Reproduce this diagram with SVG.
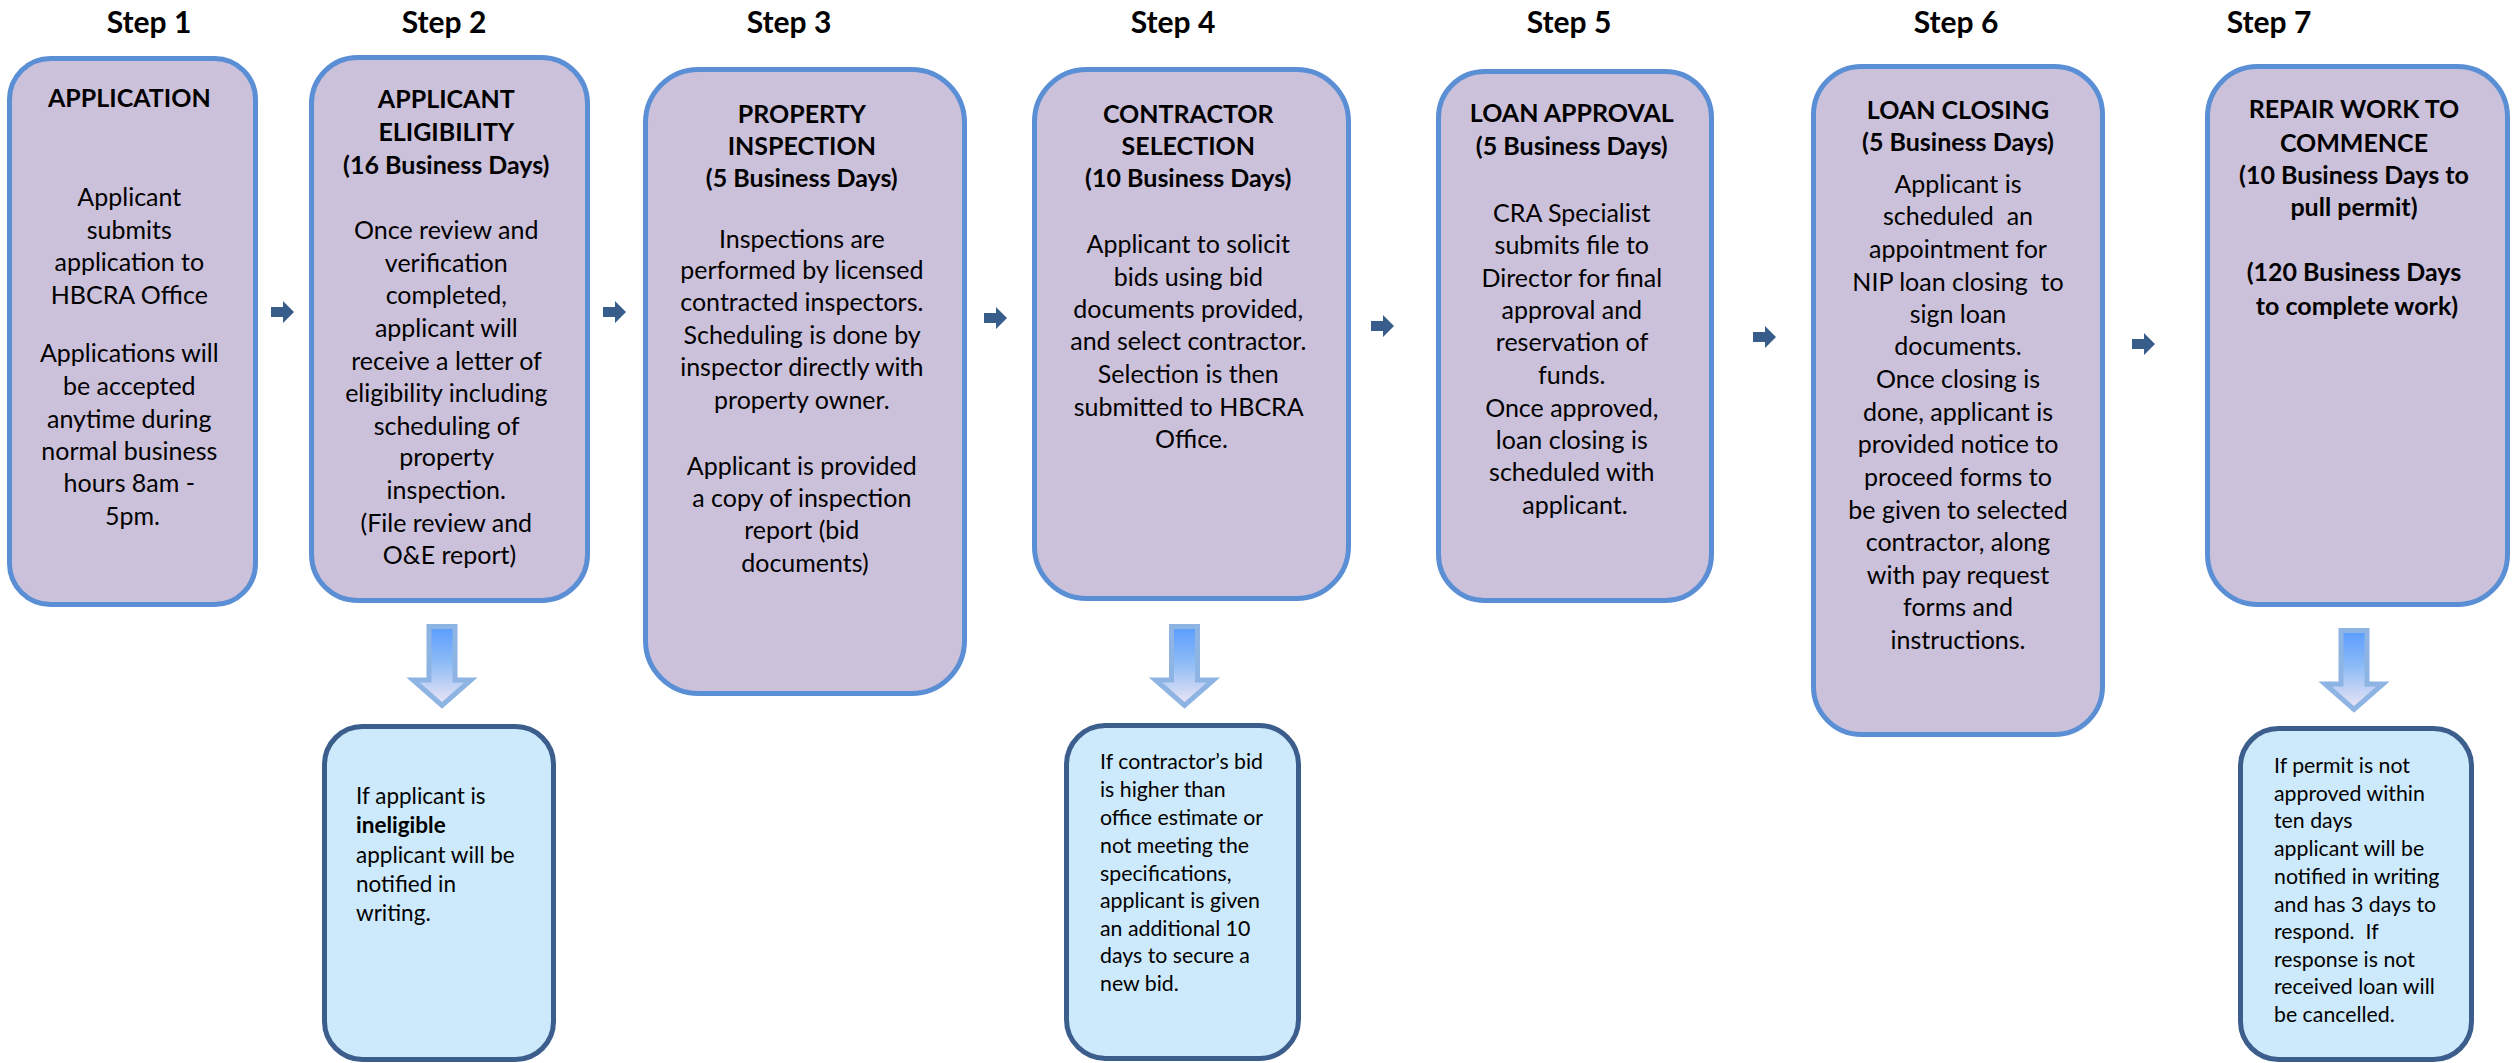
<svg xmlns="http://www.w3.org/2000/svg" xmlns:xlink="http://www.w3.org/1999/xlink" width="2518" height="1063" viewBox="0 0 2518 1063">
<style>
  text { font-family: Lato, "Open Sans", "Liberation Sans", sans-serif; fill: #000; }
  .step { font-size: 30px; font-weight: bold; text-anchor: middle; }
  .box { fill: #ccc1da; stroke: #5b8fd5; stroke-width: 5; }
  .sub { fill: #cde9fc; stroke: #3b5e8c; stroke-width: 5; }
  .c { font-size: 25px; text-anchor: middle; }
  .h { font-weight: bold; }
  .s2 { font-size: 22.5px; }
  .s4 { font-size: 21.3px; }
  .rarrow { fill: #385d8a; }
  .darrow { fill: url(#dgrad); stroke: #8db4e3; stroke-width: 5; stroke-linejoin: miter; }
</style>
<defs>
  <linearGradient id="dgrad" x1="0" y1="0" x2="0" y2="1">
    <stop offset="0" stop-color="#5a9cff"/>
    <stop offset="0.45" stop-color="#8cbbf6"/>
    <stop offset="1" stop-color="#efe6f4"/>
  </linearGradient>
  <path id="ra" d="M -23 -5 H -11 V -11 L 0 0 L -11 11 V 5 H -23 Z"/>
  <path id="da" d="M -13 0 H 13 V 53.5 H 29 L 0 79 L -29 53.5 H -13 Z"/>
</defs>

<g id="labels">
  <text class="step" x="149" y="33">Step 1</text>
  <text class="step" x="444" y="33">Step 2</text>
  <text class="step" x="789" y="33">Step 3</text>
  <text class="step" x="1173" y="33">Step 4</text>
  <text class="step" x="1569" y="33">Step 5</text>
  <text class="step" x="1956" y="33">Step 6</text>
  <text class="step" x="2269" y="33">Step 7</text>
</g>

<g id="step1">
  <rect class="box" x="9.5" y="58.5" width="246" height="546" rx="41"/>
  <text class="c">
    <tspan class="h" x="132.5" y="107">APPLICATION</tspan>
    <tspan x="132.5" y="206">Applicant</tspan>
    <tspan x="132.5" y="239">submits</tspan>
    <tspan x="132.5" y="271">application to</tspan>
    <tspan x="132.5" y="304">HBCRA Office</tspan>
    <tspan x="132.5" y="362">Applications will</tspan>
    <tspan x="132.5" y="395">be accepted</tspan>
    <tspan x="132.5" y="428">anytime during</tspan>
    <tspan x="132.5" y="460">normal business</tspan>
    <tspan x="132.5" y="492">hours 8am -</tspan>
    <tspan x="132.5" y="525">5pm.</tspan>
  </text>
</g>

<g id="step2">
  <rect class="box" x="311.5" y="57.5" width="276" height="543" rx="46"/>
  <text class="c">
    <tspan class="h" x="449.5" y="108">APPLICANT</tspan>
    <tspan class="h" x="449.5" y="141">ELIGIBILITY</tspan>
    <tspan class="h" x="449.5" y="174">(16 Business Days)</tspan>
    <tspan x="449.5" y="239">Once review and</tspan>
    <tspan x="449.5" y="272">verification</tspan>
    <tspan x="449.5" y="304">completed,</tspan>
    <tspan x="449.5" y="337">applicant will</tspan>
    <tspan x="449.5" y="370">receive a letter of</tspan>
    <tspan x="449.5" y="402">eligibility including</tspan>
    <tspan x="449.5" y="435">scheduling of</tspan>
    <tspan x="449.5" y="466">property</tspan>
    <tspan x="449.5" y="499">inspection.</tspan>
    <tspan x="449.5" y="532">(File review and</tspan>
    <tspan x="449.5" y="564">O&amp;E report)</tspan>
  </text>
</g>

<g id="step3">
  <rect class="box" x="645.5" y="69.5" width="319" height="624" rx="53"/>
  <text class="c">
    <tspan class="h" x="805" y="123">PROPERTY</tspan>
    <tspan class="h" x="805" y="155">INSPECTION</tspan>
    <tspan class="h" x="805" y="187">(5 Business Days)</tspan>
    <tspan x="805" y="248">Inspections are</tspan>
    <tspan x="805" y="279">performed by licensed</tspan>
    <tspan x="805" y="311">contracted inspectors.</tspan>
    <tspan x="805" y="344">Scheduling is done by</tspan>
    <tspan x="805" y="376">inspector directly with</tspan>
    <tspan x="805" y="409">property owner.</tspan>
    <tspan x="805" y="475">Applicant is provided</tspan>
    <tspan x="805" y="507">a copy of inspection</tspan>
    <tspan x="805" y="539">report (bid</tspan>
    <tspan x="805" y="572">documents)</tspan>
  </text>
</g>

<g id="step4">
  <rect class="box" x="1034.5" y="69.5" width="314" height="529" rx="52"/>
  <text class="c">
    <tspan class="h" x="1191.5" y="123">CONTRACTOR</tspan>
    <tspan class="h" x="1191.5" y="155">SELECTION</tspan>
    <tspan class="h" x="1191.5" y="187">(10 Business Days)</tspan>
    <tspan x="1191.5" y="253">Applicant to solicit</tspan>
    <tspan x="1191.5" y="286">bids using bid</tspan>
    <tspan x="1191.5" y="318">documents provided,</tspan>
    <tspan x="1191.5" y="350">and select contractor.</tspan>
    <tspan x="1191.5" y="383">Selection is then</tspan>
    <tspan x="1191.5" y="416">submitted to HBCRA</tspan>
    <tspan x="1191.5" y="448">Office.</tspan>
  </text>
</g>

<g id="step5">
  <rect class="box" x="1438.5" y="71.5" width="273" height="529" rx="46"/>
  <text class="c">
    <tspan class="h" x="1575" y="122">LOAN APPROVAL</tspan>
    <tspan class="h" x="1575" y="155">(5 Business Days)</tspan>
    <tspan x="1575" y="222">CRA Specialist</tspan>
    <tspan x="1575" y="254">submits file to</tspan>
    <tspan x="1575" y="287">Director for final</tspan>
    <tspan x="1575" y="319">approval and</tspan>
    <tspan x="1575" y="351">reservation of</tspan>
    <tspan x="1575" y="384">funds.</tspan>
    <tspan x="1575" y="417">Once approved,</tspan>
    <tspan x="1575" y="449">loan closing is</tspan>
    <tspan x="1575" y="481">scheduled with</tspan>
    <tspan x="1575" y="514">applicant.</tspan>
  </text>
</g>

<g id="step6">
  <rect class="box" x="1813.5" y="66.5" width="289" height="668" rx="48"/>
  <text class="c" xml:space="preserve"><tspan class="h" x="1958" y="119">LOAN CLOSING</tspan><tspan class="h" x="1958" y="151">(5 Business Days)</tspan><tspan x="1958" y="193">Applicant is</tspan><tspan x="1958" y="225">scheduled  an</tspan><tspan x="1958" y="258">appointment for</tspan><tspan x="1958" y="291">NIP loan closing  to</tspan><tspan x="1958" y="323">sign loan</tspan><tspan x="1958" y="355">documents.</tspan><tspan x="1958" y="388">Once closing is</tspan><tspan x="1958" y="421">done, applicant is</tspan><tspan x="1958" y="453">provided notice to</tspan><tspan x="1958" y="486">proceed forms to</tspan><tspan x="1958" y="519">be given to selected</tspan><tspan x="1958" y="551">contractor, along</tspan><tspan x="1958" y="584">with pay request</tspan><tspan x="1958" y="616">forms and</tspan><tspan x="1958" y="649">instructions.</tspan></text>
</g>

<g id="step7">
  <rect class="box" x="2207.5" y="66.5" width="300" height="538" rx="50"/>
  <text class="c h">
    <tspan x="2357" y="118">REPAIR WORK TO</tspan>
    <tspan x="2357" y="152">COMMENCE</tspan>
    <tspan x="2357" y="184">(10 Business Days to</tspan>
    <tspan x="2357" y="216">pull permit)</tspan>
    <tspan x="2357" y="281">(120 Business Days</tspan>
    <tspan x="2357" y="315">to complete work)</tspan>
  </text>
</g>

<g id="note2">
  <rect class="sub" x="324.5" y="726.5" width="229" height="333" rx="38"/>
  <text class="s2">
    <tspan x="356" y="804">If applicant is</tspan>
    <tspan class="h" x="356" y="833">ineligible</tspan>
    <tspan x="356" y="863">applicant will be</tspan>
    <tspan x="356" y="892">notified in</tspan>
    <tspan x="356" y="921">writing.</tspan>
  </text>
</g>

<g id="note4">
  <rect class="sub" x="1066.5" y="725.5" width="232" height="333" rx="39"/>
  <text class="s4">
    <tspan x="1100" y="769">If contractor’s bid</tspan>
    <tspan x="1100" y="797">is higher than</tspan>
    <tspan x="1100" y="825">office estimate or</tspan>
    <tspan x="1100" y="853">not meeting the</tspan>
    <tspan x="1100" y="881">specifications,</tspan>
    <tspan x="1100" y="908">applicant is given</tspan>
    <tspan x="1100" y="936">an additional 10</tspan>
    <tspan x="1100" y="963">days to secure a</tspan>
    <tspan x="1100" y="991">new bid.</tspan>
  </text>
</g>

<g id="note7">
  <rect class="sub" x="2240.5" y="728.5" width="231" height="331" rx="38"/>
  <text class="s4" xml:space="preserve"><tspan x="2274" y="773">If permit is not</tspan><tspan x="2274" y="801">approved within</tspan><tspan x="2274" y="828">ten days</tspan><tspan x="2274" y="856">applicant will be</tspan><tspan x="2274" y="884">notified in writing</tspan><tspan x="2274" y="912">and has 3 days to</tspan><tspan x="2274" y="939">respond.  If</tspan><tspan x="2274" y="967">response is not</tspan><tspan x="2274" y="994">received loan will</tspan><tspan x="2274" y="1022">be cancelled.</tspan></text>
</g>

<g id="connectors">
  <use xlink:href="#ra" class="rarrow" x="294" y="312"/>
  <use xlink:href="#ra" class="rarrow" x="626" y="312"/>
  <use xlink:href="#ra" class="rarrow" x="1007" y="318"/>
  <use xlink:href="#ra" class="rarrow" x="1394" y="326"/>
  <use xlink:href="#ra" class="rarrow" x="1776" y="337"/>
  <use xlink:href="#ra" class="rarrow" x="2155" y="344"/>
  <use xlink:href="#da" class="darrow" x="442" y="626.5"/>
  <use xlink:href="#da" class="darrow" x="1184.5" y="626.5"/>
  <use xlink:href="#da" class="darrow" x="2354" y="630.5"/>
</g>
</svg>
